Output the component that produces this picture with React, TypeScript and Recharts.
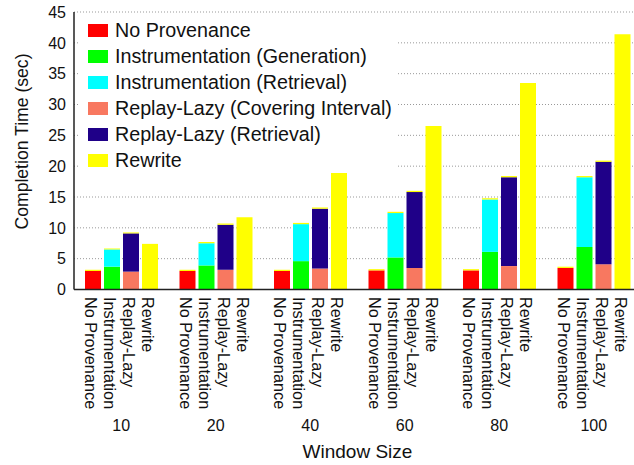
import { BarChart, Bar, XAxis, YAxis, CartesianGrid, Legend, Label } from 'recharts'

const WINDOW_SIZES = ['10', '20', '40', '60', '80', '100']
const BAR_LABELS = ['No Provenance', 'Instrumentation', 'Replay-Lazy', 'Rewrite']
const Y_TICKS = [0, 5, 10, 15, 20, 25, 30, 35, 40, 45]
const LEGEND_ORDER = [
  'No Provenance',
  'Instrumentation (Generation)',
  'Instrumentation (Retrieval)',
  'Replay-Lazy (Covering Interval)',
  'Replay-Lazy (Retrieval)',
  'Rewrite',
]

const NO_PROV = [3.0, 3.0, 3.0, 3.1, 3.1, 3.5]
const INST_GEN = [3.7, 3.9, 4.6, 5.2, 6.1, 6.9]
const INST_RET = [2.8, 3.6, 6.0, 7.2, 8.5, 11.3]
const RL_COVER = [2.9, 3.2, 3.4, 3.5, 3.8, 4.1]
const RL_RET = [6.2, 7.3, 9.7, 12.3, 14.4, 16.6]
const REWRITE = [7.4, 11.7, 18.9, 26.5, 33.5, 41.4]
// thin yellow slivers drawn on top of the other bars
const NO_PROV_REST = [0.2, 0.2, 0.2, 0.2, 0.2, 0.2]
const INST_REST = [0.15, 0.2, 0.2, 0.2, 0.2, 0.2]
const RL_REST = [0.15, 0.2, 0.2, 0.2, 0.2, 0.2]

const data = WINDOW_SIZES.map((w, i) => ({
  w,
  noProv: NO_PROV[i],
  noProvRest: NO_PROV_REST[i],
  instGen: INST_GEN[i],
  instRet: INST_RET[i],
  instRest: INST_REST[i],
  rlCover: RL_COVER[i],
  rlRet: RL_RET[i],
  rlRest: RL_REST[i],
  rewrite: REWRITE[i],
}))

const FONT = '"Liberation Sans", Arial, Helvetica, sans-serif'
const BAR_SIZE = 16
const BAR_GAP = 3

function GroupTick({ x, y, payload }: any) {
  return (
    <g>
      {BAR_LABELS.map((l, i) => {
        const cx = x + (i - 1.5) * (BAR_SIZE + BAR_GAP) - 1.7
        return (
          <text
            key={l}
            transform={`translate(${cx}, ${y + 7.5}) rotate(90)`}
            fontSize={16.3}
            fontFamily={FONT}
            fill="#111"
            dominantBaseline="central"
          >
            {l}
          </text>
        )
      })}
      <text x={x} y={y + 141.5} textAnchor="middle" fontSize={16} fontFamily={FONT} fill="#111">
        {payload.value}
      </text>
    </g>
  )
}

function renderLegend({ payload }: any) {
  const items = (payload || [])
    .filter((p: any) => LEGEND_ORDER.includes(p.value))
    .sort((a: any, b: any) => LEGEND_ORDER.indexOf(a.value) - LEGEND_ORDER.indexOf(b.value))
  return (
    <div style={{ background: '#fff', width: '100%', height: '100%', paddingTop: 3, boxSizing: 'border-box' }}>
      {items.map((p: any) => (
        <div key={p.value} style={{ display: 'flex', alignItems: 'center', height: 26 }}>
          <span style={{ width: 20, height: 13, background: p.color, marginLeft: 8, marginRight: 7, flexShrink: 0 }} />
          <span style={{ fontSize: 19.7, fontFamily: FONT, color: '#111', whiteSpace: 'nowrap' }}>{p.value}</span>
        </div>
      ))}
    </div>
  )
}

export default function App() {
  return (
    <div style={{ position: 'fixed', left: 0, top: 0, width: 634, height: 465, overflow: 'hidden', background: '#fff' }}>
      <BarChart
        width={641}
        height={465}
        data={data}
        margin={{ top: 12, right: 0, bottom: 0, left: 0 }}
        barSize={BAR_SIZE}
        barGap={BAR_GAP}
      >
        <CartesianGrid vertical={false} stroke="#999" strokeDasharray="1 2" />
        <XAxis
          dataKey="w"
          height={175.5}
          tick={<GroupTick />}
          tickLine={false}
          tickSize={0}
          tickMargin={0}
          interval={0}
          axisLine={{ stroke: '#222', strokeWidth: 1.5 }}
        >
          <Label
            content={({ viewBox }: any) => (
              <text
                x={viewBox.x + viewBox.width / 2}
                y={viewBox.y + 168.5}
                textAnchor="middle"
                fontSize={19}
                fontFamily={FONT}
                fill="#111"
              >
                Window Size
              </text>
            )}
          />
        </XAxis>
        <YAxis
          width={74}
          domain={[0, 45]}
          ticks={Y_TICKS}
          interval={0}
          tickLine={false}
          tickSize={0}
          tickMargin={8}
          tick={{ fontSize: 16, fontFamily: FONT, fill: '#111' }}
          axisLine={{ stroke: '#222', strokeWidth: 1.5 }}
        >
          <Label
            content={() => (
              <text
                transform="translate(22, 141.5) rotate(-90)"
                textAnchor="middle"
                dominantBaseline="central"
                fontSize={17.6}
                fontFamily={FONT}
                fill="#111"
              >
                Completion Time (sec)
              </text>
            )}
          />
        </YAxis>
        <Legend
          layout="vertical"
          align="center"
          verticalAlign="middle"
          content={renderLegend}
          wrapperStyle={{ left: 80, top: 14, width: 317, height: 156 }}
        />
        <Bar dataKey="noProv" name="No Provenance" stackId="a" fill="#ff0000" isAnimationActive={false} />
        <Bar dataKey="noProvRest" stackId="a" fill="#ffff00" legendType="none" isAnimationActive={false} />
        <Bar dataKey="instGen" name="Instrumentation (Generation)" stackId="b" fill="#00ff00" isAnimationActive={false} />
        <Bar dataKey="instRet" name="Instrumentation (Retrieval)" stackId="b" fill="#00ffff" isAnimationActive={false} />
        <Bar dataKey="instRest" stackId="b" fill="#ffff00" legendType="none" isAnimationActive={false} />
        <Bar dataKey="rlCover" name="Replay-Lazy (Covering Interval)" stackId="c" fill="#f87860" isAnimationActive={false} />
        <Bar dataKey="rlRet" name="Replay-Lazy (Retrieval)" stackId="c" fill="#1f0088" isAnimationActive={false} />
        <Bar dataKey="rlRest" stackId="c" fill="#ffff00" legendType="none" isAnimationActive={false} />
        <Bar dataKey="rewrite" name="Rewrite" stackId="d" fill="#ffff00" isAnimationActive={false} />
      </BarChart>
    </div>
  )
}
